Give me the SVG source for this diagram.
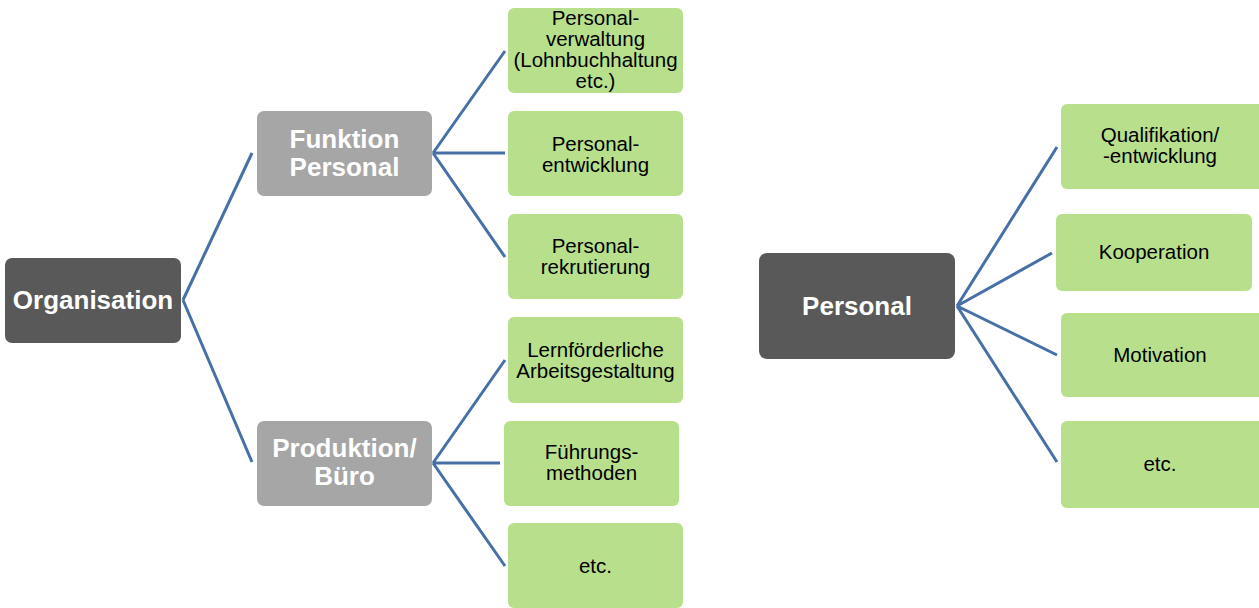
<svg xmlns="http://www.w3.org/2000/svg" width="1259" height="608" viewBox="0 0 1259 608">
<style>
.dark{fill:#595959}
.mid{fill:#a6a6a6}
.leaf{fill:#b8df8c}
.bt{font-family:"Liberation Sans",Arial,sans-serif;font-weight:bold;font-size:26px;fill:#ffffff;text-anchor:middle}
.lt{font-family:"Liberation Sans",Arial,sans-serif;font-size:20.5px;fill:#000000;text-anchor:middle}
.c{fill:none;stroke:#4670a6;stroke-width:3;stroke-linecap:butt;stroke-linejoin:miter}
</style>
<rect width="1259" height="608" fill="#ffffff"/>
<g id="connectors">
<path class="c" d="M183,300 L252,153 M183,300 L252,462"/>
<path class="c" d="M433,153 L505,51 M433,153 L505,153 M433,153 L505,257"/>
<path class="c" d="M433,463 L505,360 M433,463 L500,463 M433,463 L505,566"/>
<path class="c" d="M957,306 L1057,147 M957,306 L1052,253 M957,306 L1057,355 M957,306 L1057,462"/>
</g>
<g id="organisation">
<rect class="dark" x="5" y="258" width="176" height="85" rx="7"/>
<text class="bt" x="93" y="309">Organisation</text>
</g>
<g id="funktion-personal">
<rect class="mid" x="257" y="111" width="175" height="85" rx="7"/>
<text class="bt" x="344.5" y="148">Funktion</text>
<text class="bt" x="344.5" y="176">Personal</text>
</g>
<g id="produktion-buero">
<rect class="mid" x="257" y="421" width="175" height="85" rx="7"/>
<text class="bt" x="344.5" y="457">Produktion/</text>
<text class="bt" x="344.5" y="485">Büro</text>
</g>
<g id="personalverwaltung">
<rect class="leaf" x="508" y="8" width="175" height="85" rx="6"/>
<text class="lt" x="595.5" y="25">Personal-</text>
<text class="lt" x="595.5" y="46">verwaltung</text>
<text class="lt" x="595.5" y="67">(Lohnbuchhaltung</text>
<text class="lt" x="595.5" y="88">etc.)</text>
</g>
<g id="personalentwicklung">
<rect class="leaf" x="508" y="111" width="175" height="85" rx="6"/>
<text class="lt" x="595.5" y="151">Personal-</text>
<text class="lt" x="595.5" y="172">entwicklung</text>
</g>
<g id="personalrekrutierung">
<rect class="leaf" x="508" y="214" width="175" height="85" rx="6"/>
<text class="lt" x="595.5" y="253">Personal-</text>
<text class="lt" x="595.5" y="274">rekrutierung</text>
</g>
<g id="lernfoerderliche">
<rect class="leaf" x="508" y="317" width="175" height="86" rx="6"/>
<text class="lt" x="595.5" y="357">Lernförderliche</text>
<text class="lt" x="595.5" y="378">Arbeitsgestaltung</text>
</g>
<g id="fuehrungsmethoden">
<rect class="leaf" x="504" y="421" width="175" height="85" rx="6"/>
<text class="lt" x="591.5" y="459">Führungs-</text>
<text class="lt" x="591.5" y="480">methoden</text>
</g>
<g id="etc-links">
<rect class="leaf" x="508" y="523" width="175" height="85" rx="6"/>
<text class="lt" x="595.5" y="573">etc.</text>
</g>
<g id="personal">
<rect class="dark" x="759" y="253" width="196" height="106" rx="8"/>
<text class="bt" x="857" y="315">Personal</text>
</g>
<g id="qualifikation">
<rect class="leaf" x="1061" y="104" width="204" height="85" rx="6"/>
<text class="lt" x="1160" y="142">Qualifikation/</text>
<text class="lt" x="1160" y="163">-entwicklung</text>
</g>
<g id="kooperation">
<rect class="leaf" x="1056" y="214" width="196" height="77" rx="6"/>
<text class="lt" x="1154" y="259">Kooperation</text>
</g>
<g id="motivation">
<rect class="leaf" x="1061" y="313" width="204" height="84" rx="6"/>
<text class="lt" x="1160" y="362">Motivation</text>
</g>
<g id="etc-rechts">
<rect class="leaf" x="1061" y="421" width="204" height="87" rx="6"/>
<text class="lt" x="1160" y="471">etc.</text>
</g>
</svg>
